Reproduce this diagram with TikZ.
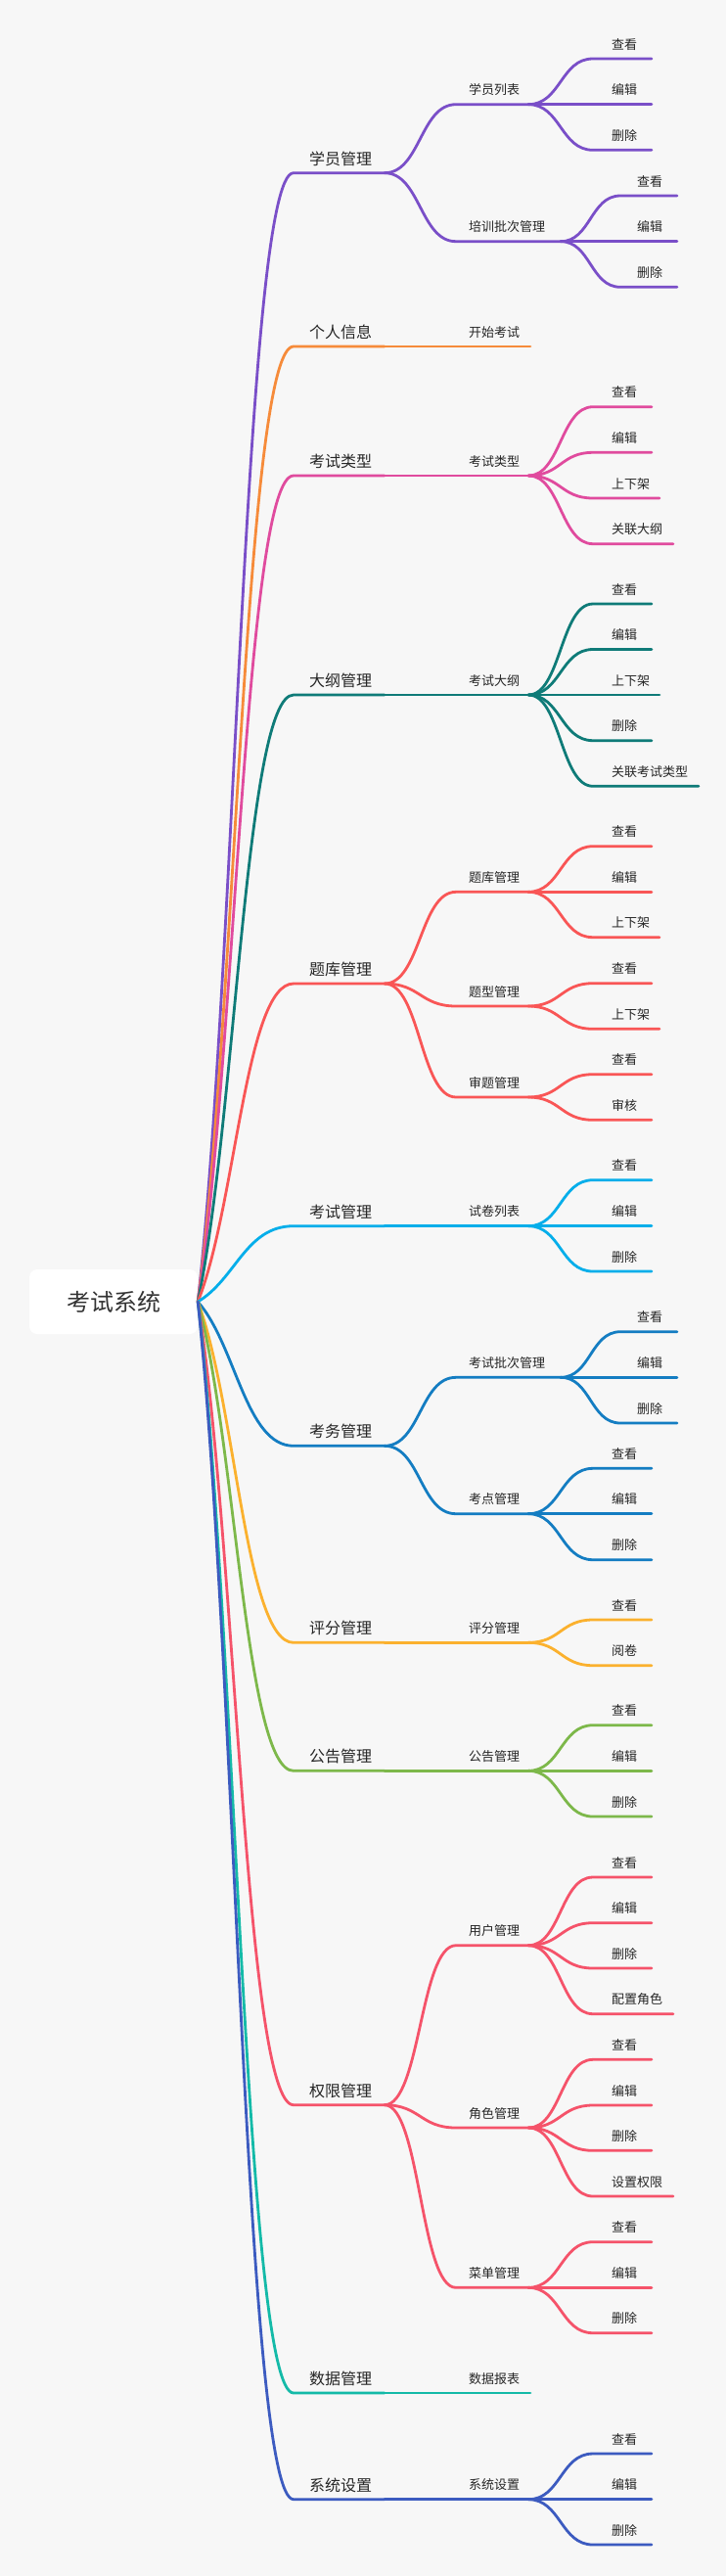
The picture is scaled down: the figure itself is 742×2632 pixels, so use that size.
\documentclass[tikz,border=0pt]{standalone}
\usepackage{fontspec}
\setmainfont{Noto Sans CJK SC}
\usetikzlibrary{calc}
\definecolor{bg}{HTML}{F7F7F7}
\definecolor{lbltxt}{HTML}{262626}
\definecolor{roottxt}{HTML}{333333}
\definecolor{cA}{HTML}{7A4FC8}
\definecolor{cB}{HTML}{F68B3A}
\definecolor{cC}{HTML}{E04B9E}
\definecolor{cD}{HTML}{0F7B78}
\definecolor{cE}{HTML}{F95656}
\definecolor{cF}{HTML}{05AEEA}
\definecolor{cG}{HTML}{147DC2}
\definecolor{cH}{HTML}{FBB12E}
\definecolor{cI}{HTML}{7DB84A}
\definecolor{cJ}{HTML}{F5536A}
\definecolor{cK}{HTML}{14BAA8}
\definecolor{cL}{HTML}{3C5BC0}
\tikzset{
  lbl/.style={anchor=base west, inner sep=0pt, text=lbltxt},
  lonetxt/.style={lbl, font=\fontsize{16}{16}\selectfont},
  ltwotxt/.style={lbl, font=\fontsize{13}{13}\selectfont},
  branch/.style={line width=2.8pt, line cap=round, line join=round},
  rootbox/.style={fill=white, rounded corners=8pt, minimum width=172pt, minimum height=66pt, inner sep=0pt, text=roottxt, font=\fontsize{24}{24}\selectfont},
}
% level 1: name, y, colour, text
\newcommand\Lone[4]{%
  \pgfmathsetmacro\cya{1330+0.3*(#2-1330)}%
  \coordinate (#1S) at (300,#2);
  \coordinate (#1E) at (393,#2);
  \node[lonetxt] (#1) at (316,#2-8.5) {#4};
  \draw[branch,#3] (root.east) .. controls (241.2,\cya) and (251,#2) .. (#1S) -- (#1E);
}
% level 2: name, parent, y, colour, text, line end
\newcommand\Ltwo[6]{%
  \coordinate (#1S) at (466,#3);
  \coordinate (#1E) at (#6,#3);
  \coordinate (#1M) at ($(#2E)!0.5!(#1S)$);
  \node[ltwotxt] (#1) at (479,#3-10) {#5};
  \draw[branch,#4] (#2E) .. controls (#1M |- #2E) and (#1M |- #1S) .. (#1S) -- (#1E);
}
% level 3: name, parent, y, colour, text, line start, line end, text x
\newcommand\Lthree[8]{%
  \coordinate (#1S) at (#6,#3);
  \coordinate (#1E) at (#7,#3);
  \coordinate (#1M) at ($(#2E)!0.5!(#1S)$);
  \node[ltwotxt] (#1) at (#8,#3-10) {#5};
  \draw[branch,#4] (#2E) .. controls (#1M |- #2E) and (#1M |- #1S) .. (#1S) -- (#1E);
}
\begin{document}
\begin{tikzpicture}[x=1pt,y=-1pt]
\fill[bg] (0,0) rectangle (742,2632);
\useasboundingbox (0,0) rectangle (742,2632);
\node[rootbox] (root) at (116,1330) {考试系统};

\Lone{a}{176.7}{cA}{学员管理}
\Ltwo{aa}{a}{106.7}{cA}{学员列表}{540}
\Lthree{aaa}{aa}{60}{cA}{查看}{606}{666}{625}
\Lthree{aab}{aa}{106.7}{cA}{编辑}{606}{666}{625}
\Lthree{aac}{aa}{153.3}{cA}{删除}{606}{666}{625}
\Ltwo{ab}{a}{246.7}{cA}{培训批次管理}{573}
\Lthree{aba}{ab}{200}{cA}{查看}{634}{692}{651}
\Lthree{abb}{ab}{246.7}{cA}{编辑}{634}{692}{651}
\Lthree{abc}{ab}{293.3}{cA}{删除}{634}{692}{651}

\Lone{b}{354}{cB}{个人信息}
\Ltwo{ba}{b}{354}{cB}{开始考试}{542}

\Lone{c}{486}{cC}{考试类型}
\Ltwo{ca}{c}{486}{cC}{考试类型}{540}
\Lthree{caa}{ca}{415.7}{cC}{查看}{606}{666}{625}
\Lthree{cab}{ca}{462.3}{cC}{编辑}{606}{666}{625}
\Lthree{cac}{ca}{509}{cC}{上下架}{606}{674}{625}
\Lthree{cad}{ca}{555.7}{cC}{关联大纲}{606}{688}{625}

\Lone{d}{710}{cD}{大纲管理}
\Ltwo{da}{d}{710}{cD}{考试大纲}{540}
\Lthree{daa}{da}{617}{cD}{查看}{606}{666}{625}
\Lthree{dab}{da}{663.5}{cD}{编辑}{606}{666}{625}
\Lthree{dac}{da}{710}{cD}{上下架}{606}{674}{625}
\Lthree{dad}{da}{756.7}{cD}{删除}{606}{666}{625}
\Lthree{dae}{da}{803.3}{cD}{关联考试类型}{606}{714}{625}

\Lone{e}{1005}{cE}{题库管理}
\Ltwo{ea}{e}{911.3}{cE}{题库管理}{540}
\Lthree{eaa}{ea}{864.7}{cE}{查看}{606}{666}{625}
\Lthree{eab}{ea}{911.3}{cE}{编辑}{606}{666}{625}
\Lthree{eac}{ea}{957.7}{cE}{上下架}{606}{674}{625}
\Ltwo{eb}{e}{1028}{cE}{题型管理}{540}
\Lthree{eba}{eb}{1004.7}{cE}{查看}{606}{666}{625}
\Lthree{ebb}{eb}{1051.3}{cE}{上下架}{606}{674}{625}
\Ltwo{ec}{e}{1121}{cE}{审题管理}{540}
\Lthree{eca}{ec}{1097.7}{cE}{查看}{606}{666}{625}
\Lthree{ecb}{ec}{1144.3}{cE}{审核}{606}{666}{625}

\Lone{f}{1252.7}{cF}{考试管理}
\Ltwo{fa}{f}{1252.7}{cF}{试卷列表}{540}
\Lthree{faa}{fa}{1205.7}{cF}{查看}{606}{666}{625}
\Lthree{fab}{fa}{1252.7}{cF}{编辑}{606}{666}{625}
\Lthree{fac}{fa}{1299}{cF}{删除}{606}{666}{625}

\Lone{g}{1477.3}{cG}{考务管理}
\Ltwo{ga}{g}{1407.3}{cG}{考试批次管理}{573}
\Lthree{gaa}{ga}{1360.7}{cG}{查看}{634}{692}{651}
\Lthree{gab}{ga}{1407.3}{cG}{编辑}{634}{692}{651}
\Lthree{gac}{ga}{1454}{cG}{删除}{634}{692}{651}
\Ltwo{gb}{g}{1546.7}{cG}{考点管理}{540}
\Lthree{gba}{gb}{1500.3}{cG}{查看}{606}{666}{625}
\Lthree{gbb}{gb}{1546.7}{cG}{编辑}{606}{666}{625}
\Lthree{gbc}{gb}{1593.7}{cG}{删除}{606}{666}{625}

\Lone{h}{1678.3}{cH}{评分管理}
\Ltwo{ha}{h}{1678.3}{cH}{评分管理}{540}
\Lthree{haa}{ha}{1655}{cH}{查看}{606}{666}{625}
\Lthree{hab}{ha}{1701.7}{cH}{阅卷}{606}{666}{625}

\Lone{i}{1809.3}{cI}{公告管理}
\Ltwo{ia}{i}{1809.3}{cI}{公告管理}{540}
\Lthree{iaa}{ia}{1762.7}{cI}{查看}{606}{666}{625}
\Lthree{iab}{ia}{1809.3}{cI}{编辑}{606}{666}{625}
\Lthree{iac}{ia}{1856}{cI}{删除}{606}{666}{625}

\Lone{j}{2150.7}{cJ}{权限管理}
\Ltwo{ja}{j}{1987.7}{cJ}{用户管理}{540}
\Lthree{jaa}{ja}{1918}{cJ}{查看}{606}{666}{625}
\Lthree{jab}{ja}{1964.7}{cJ}{编辑}{606}{666}{625}
\Lthree{jac}{ja}{2011}{cJ}{删除}{606}{666}{625}
\Lthree{jad}{ja}{2057.7}{cJ}{配置角色}{606}{688}{625}
\Ltwo{jb}{j}{2174}{cJ}{角色管理}{540}
\Lthree{jba}{jb}{2104.3}{cJ}{查看}{606}{666}{625}
\Lthree{jbb}{jb}{2151}{cJ}{编辑}{606}{666}{625}
\Lthree{jbc}{jb}{2197.3}{cJ}{删除}{606}{666}{625}
\Lthree{jbd}{jb}{2244}{cJ}{设置权限}{606}{688}{625}
\Ltwo{jc}{j}{2337.3}{cJ}{菜单管理}{540}
\Lthree{jca}{jc}{2290.7}{cJ}{查看}{606}{666}{625}
\Lthree{jcb}{jc}{2337.3}{cJ}{编辑}{606}{666}{625}
\Lthree{jcc}{jc}{2383.7}{cJ}{删除}{606}{666}{625}

\Lone{k}{2445}{cK}{数据管理}
\Ltwo{ka}{k}{2445}{cK}{数据报表}{542}

\Lone{l}{2553.7}{cL}{系统设置}
\Ltwo{la}{l}{2553.7}{cL}{系统设置}{540}
\Lthree{laa}{la}{2507}{cL}{查看}{606}{666}{625}
\Lthree{lab}{la}{2553.7}{cL}{编辑}{606}{666}{625}
\Lthree{lac}{la}{2600}{cL}{删除}{606}{666}{625}
\end{tikzpicture}
\end{document}
